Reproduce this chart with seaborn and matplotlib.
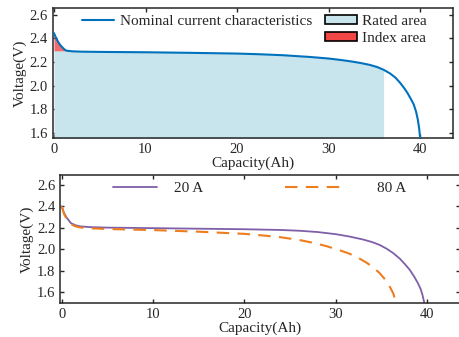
import matplotlib
matplotlib.use("Agg")
import matplotlib.pyplot as plt
from matplotlib.patches import Patch
from matplotlib.lines import Line2D
import numpy as np
import pandas as pd
import seaborn as sns

# ---------------- data ----------------
cap_nom = [0, 0.25, 0.5, 0.75, 1.0, 1.25, 1.5, 2, 3, 5, 10, 15, 20, 22.5, 25, 28, 30, 31.3,
           32.5, 33.5, 34.5, 35.3, 36.0, 36.7, 37.3, 37.8, 38.2, 38.6, 39.0, 39.3, 39.55,
           39.75, 39.9, 40.0]
v_nom = [2.445, 2.40, 2.365, 2.338, 2.318, 2.30, 2.295, 2.291, 2.288, 2.286, 2.283, 2.278,
         2.272, 2.266, 2.258, 2.243, 2.230, 2.218, 2.205, 2.192, 2.176, 2.158, 2.135, 2.104,
         2.068, 2.025, 1.985, 1.94, 1.885, 1.84, 1.78, 1.71, 1.63, 1.55]
rated_limit_cap = 36.0
index_level = 2.295

cap_20 = [0, 0.25, 0.5, 1, 1.5, 2, 3, 5, 10, 15, 20, 24, 26, 28, 30, 31.5, 33, 34, 34.8,
          35.6, 36.3, 37.0, 37.6, 38.1, 38.6, 39.0, 39.3, 39.5, 39.7]
v_20 = [2.40, 2.34, 2.30, 2.245, 2.225, 2.215, 2.208, 2.203, 2.198, 2.193, 2.188, 2.181,
        2.174, 2.162, 2.142, 2.12, 2.092, 2.068, 2.042, 2.005, 1.965, 1.915, 1.86, 1.81,
        1.745, 1.685, 1.63, 1.575, 1.50]

cap_80 = [0, 0.25, 0.5, 1, 1.5, 2, 3, 5, 10, 15, 20, 22, 24, 26, 27.5, 29, 30.5, 31.5, 32.5,
          33.3, 34.0, 34.8, 35.4, 35.9, 36.3, 36.6]
v_80 = [2.40, 2.33, 2.29, 2.235, 2.215, 2.205, 2.197, 2.19, 2.18, 2.165, 2.145, 2.13, 2.113,
        2.088, 2.062, 2.03, 1.99, 1.96, 1.92, 1.88, 1.84, 1.78, 1.72, 1.655, 1.59, 1.50]

xticks = [0, 10, 20, 30, 40]
yticks_top = [1.6, 1.8, 2.0, 2.2, 2.4, 2.6]
yticks_bot = [1.6, 1.8, 2.0, 2.2, 2.4, 2.6]

# ---------------- style ----------------
sns.set_style("ticks")
plt.rcParams['font.family'] = ['Liberation Serif', 'DejaVu Serif']
plt.rcParams['font.size'] = 11
plt.rcParams['axes.linewidth'] = 1.1

C_BLUE = '#0072BD'
C_PURPLE = '#7E5FA8'
C_ORANGE = '#EE7D1E'
C_RATED = '#c8e4ec'
C_INDEX = '#f04646'

W, H = 459, 337
fig = plt.figure(figsize=(W / 100, H / 100), dpi=100)

def pos(l, r, t, b):
    return [l / W, 1 - b / H, (r - l) / W, (b - t) / H]

ax1 = fig.add_axes(pos(52.5, 452.7, 8.3, 138.3))
ax2 = fig.add_axes(pos(60.3, 459.5, 174.7, 303.3))

XLIM = (-0.16, 43.55)

# ---------------- top panel ----------------
df_nom = pd.DataFrame({'cap': cap_nom, 'v': v_nom})
c = np.array(cap_nom)
v = np.array(v_nom)
m = c <= rated_limit_cap
ax1.fill_between(c[m], 1.0, np.minimum(v[m], index_level), color=C_RATED, lw=0, zorder=1)
mi = v >= index_level
ax1.fill_between(c, index_level, v, where=mi, interpolate=True, color=C_INDEX, alpha=0.8,
                 lw=0, zorder=1)
sns.lineplot(data=df_nom, x='cap', y='v', ax=ax1, color=C_BLUE, lw=1.5, sort=False,
             estimator=None, zorder=3)

ax1.set_xlim(*XLIM)
ax1.set_ylim(1.555, 2.655)
ax1.set_xticks(xticks)
ax1.set_yticks(yticks_top)
ax1.set_yticklabels([f'{t:.1f}' for t in yticks_top])
ax1.set_xlabel('Capacity(Ah)', labelpad=0)
ax1.set_ylabel('Voltage(V)', labelpad=2)

leg1 = ax1.legend(handles=[Line2D([], [], color=C_BLUE, lw=1.5)],
                  labels=['Nominal current characteristics'],
                  loc='upper left', bbox_to_anchor=(0.074, 0.95), frameon=False,
                  borderpad=0, borderaxespad=0, handlelength=2.1, handletextpad=0.4)
ax1.add_artist(leg1)
ax1.legend(handles=[Patch(facecolor=C_RATED, edgecolor='black', lw=1.2),
                    Patch(facecolor=C_INDEX, edgecolor='black', lw=1.2)],
           labels=['Rated area', 'Index area'],
           loc='upper left', bbox_to_anchor=(0.68, 0.95), frameon=False,
           borderpad=0, borderaxespad=0, handlelength=2.1, handleheight=0.55,
           handletextpad=0.35, labelspacing=0.25)

# ---------------- bottom panel ----------------
df_b = pd.concat([
    pd.DataFrame({'cap': cap_20, 'v': v_20, 'cur': '20 A'}),
    pd.DataFrame({'cap': cap_80, 'v': v_80, 'cur': '80 A'}),
])
sns.lineplot(data=df_b[df_b.cur == '20 A'], x='cap', y='v', ax=ax2, color=C_PURPLE, lw=1.3,
             sort=False, estimator=None)
sns.lineplot(data=df_b[df_b.cur == '80 A'], x='cap', y='v', ax=ax2, color=C_ORANGE, lw=1.5,
             sort=False, estimator=None, dashes=False)
ax2.lines[-1].set_dashes((6, 4))

ax2.set_xlim(*XLIM)
ax2.set_ylim(1.498, 2.696)
ax2.set_xticks(xticks)
ax2.set_yticks(yticks_bot)
ax2.set_yticklabels([f'{t:.1f}' for t in yticks_bot])
ax2.set_xlabel('Capacity(Ah)', labelpad=0)
ax2.set_ylabel('Voltage(V)', labelpad=2)

leg20 = ax2.legend(handles=[Line2D([], [], color=C_PURPLE, lw=1.3)], labels=['20 A'],
                   loc='upper left', bbox_to_anchor=(0.132, 0.945), frameon=False,
                   borderpad=0, borderaxespad=0, handlelength=2.85, handletextpad=1.15)
ax2.add_artist(leg20)
ax2.legend(handles=[Line2D([], [], color=C_ORANGE, lw=1.5, dashes=(6, 4))], labels=['80 A'],
           loc='upper left', bbox_to_anchor=(0.563, 0.945), frameon=False,
           borderpad=0, borderaxespad=0, handlelength=3.8, handletextpad=2.2)

for ax in (ax1, ax2):
    ax.tick_params(direction='in', top=True, right=True, length=3, width=1.0,
                   labelcolor='#262626', pad=3.5, labelsize=10.5)
    for s in ax.spines.values():
        s.set_visible(True)
        s.set_color('#262626')
    ax.grid(False)

fig.savefig('out.png', dpi=100)
